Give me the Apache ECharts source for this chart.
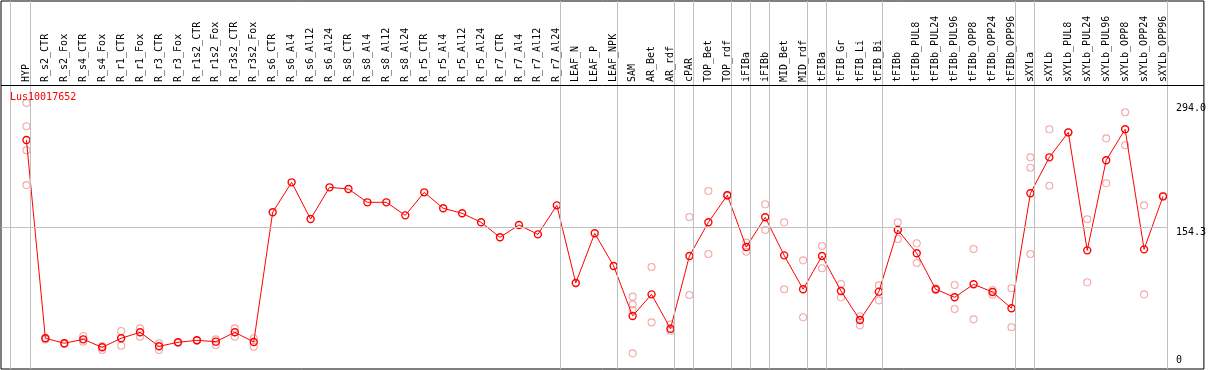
<!DOCTYPE html>
<html>
<head>
<meta charset="utf-8">
<script src="https://cdn.jsdelivr.net/npm/echarts@6/dist/echarts.min.js"></script>
<style>
html,body{margin:0;padding:0;background:#fff;}
#chart{width:1209px;height:370px;}
</style>
</head>
<body>
<div id="chart"></div>
<script>
const geneName = 'Lus10017652';
const categories = ['HYP','R_s2_CTR','R_s2_Fox','R_s4_CTR','R_s4_Fox','R_r1_CTR','R_r1_Fox','R_r3_CTR','R_r3_Fox','R_r1s2_CTR','R_r1s2_Fox','R_r3s2_CTR','R_r3s2_Fox','R_s6_CTR','R_s6_Al4','R_s6_Al12','R_s6_Al24','R_s8_CTR','R_s8_Al4','R_s8_Al12','R_s8_Al24','R_r5_CTR','R_r5_Al4','R_r5_Al12','R_r5_Al24','R_r7_CTR','R_r7_Al4','R_r7_Al12','R_r7_Al24','LEAF_N','LEAF_P','LEAF_NPK','SAM','AR_Bet','AR_rdf','cPAR','TOP_Bet','TOP_rdf','iFIBa','iFIBb','MID_Bet','MID_rdf','tFIBa','tFIB_Gr','tFIB_Li','tFIB_Bi','tFIBb','tFIBb_PUL8','tFIBb_PUL24','tFIBb_PUL96','tFIBb_OPP8','tFIBb_OPP24','tFIBb_OPP96','sXYLa','sXYLb','sXYLb_PUL8','sXYLb_PUL24','sXYLb_PUL96','sXYLb_OPP8','sXYLb_OPP24','sXYLb_OPP96'];
const means = [252.5,30.4,24.8,29.2,20.3,30.4,37.1,21.4,25.9,28.1,26.6,37.1,26.2,171.5,205.1,164,199.5,197.6,182.7,182.7,168.1,193.9,176,170.4,160.3,143.5,157.3,146.8,179.3,92.3,148,111.4,55.3,79.6,41.1,122.6,160.3,190.6,132.6,165.9,123.3,85.3,122.6,83.4,50.9,82.6,151.7,125.6,85.3,76.3,90.9,82.2,64,192.8,233.1,261.1,128.9,229.8,264.5,130,189.4];
const replicates = [[294,268,241,202],[31,29],[25,24],[33,26.6],[21.7,17.3],[38.5,22.1],[41.5,32.2],[24.8,17.3],[26,25.5],[28,28],[29.2,22.8],[41.5,32.2],[30.4,21],
[],[],[],[],[],[],[],[],[],[],[],[],[],[],[],[],[],[],[],
[77,68.4,62,13.5],[110.2,48.2],[46,38.9],[166.3,78.9],[195.4,124.8],[191,190],[137.5,127.4],[180.5,151.7],[160.3,85.3],[117.7,53.9],[133.8,108.8],[91.2,76.3],[55,44.9],[89.7,72.9],[160.3,141.6],[136.8,114.7],[86,84.5],[90.1,63.2],[130.4,51.6],[84.5,79.2],[86.4,42.7],[233.1,221.5,124.8],[264.5,201.3],[261,261],[163.7,93.1],[254.4,204],[283.6,246.6],[179.3,79.6],[190,189]];
const yTickLabels = [154.3, 294.0];
const yZeroLabel = [0];
const groupSeparators = [-0.85,0.2,28.2,31.2,34.2,35.2,37.2,38.2,39.2,41.2,42.2,45.2,52.2,53.2,60.2];

const XMIN = -1.3421, XMAX = 62.158, YMIN = -4.03, YMAX = 408.25;
const FONT = 'DejaVu Sans Mono';
const GRAY = {color: '#c0c0c0', width: 1, type: 'solid'};

const meanData = means.map((v, i) => [i, v]);
const repData = [];
replicates.forEach((arr, i) => arr.forEach(v => repData.push([i, v])));

const chart = echarts.init(document.getElementById('chart'), null, {renderer: 'canvas'});
chart.setOption({
  animation: false,
  title: {
    text: geneName, left: 10, top: 92, padding: 0,
    textStyle: {color: '#ff0000', fontFamily: FONT, fontSize: 10, fontWeight: 'normal'}
  },
  grid: {left: 1, right: 1.5, top: 1, bottom: 1, show: true, borderColor: '#000', borderWidth: 1, backgroundColor: '#fff'},
  xAxis: {
    type: 'value', min: XMIN, max: XMAX, position: 'top', offset: -81,
    axisLine: {show: false}, axisTick: {show: false}, splitLine: {show: false},
    axisLabel: {
      customValues: categories.map((c, i) => i),
      formatter: v => categories[Math.round(v)],
      rotate: 90, margin: 0, color: '#000', fontFamily: FONT, fontSize: 10
    }
  },
  yAxis: [{
    type: 'value', min: YMIN, max: YMAX, position: 'right',
    axisLine: {show: false}, axisTick: {show: false}, splitLine: {show: false},
    axisLabel: {customValues: yTickLabels, formatter: v => v.toFixed(1), inside: true, align: 'left', margin: 28,
      verticalAlign: 'top', color: '#000', fontFamily: FONT, fontSize: 10}
  }, {
    type: 'value', min: YMIN, max: YMAX, position: 'right',
    axisLine: {show: false}, axisTick: {show: false}, splitLine: {show: false},
    axisLabel: {customValues: yZeroLabel, formatter: v => String(v), inside: true, align: 'left', margin: 28,
      verticalAlign: 'bottom', color: '#000', fontFamily: FONT, fontSize: 10}
  }],
  series: [{
    type: 'scatter', data: repData, symbol: 'circle', symbolSize: 7, z: 2,
    itemStyle: {color: 'rgba(255,255,255,0)', borderColor: '#f09494', borderWidth: 1.1},
    markLine: {
      silent: true, symbol: 'none', label: {show: false},
      data: [
        ...groupSeparators.map(x => ({xAxis: x, lineStyle: GRAY})),
        [{coord: [XMIN, 154.3], lineStyle: GRAY}, {coord: [60.24, 154.3]}],
        {yAxis: 314.1, lineStyle: {color: '#000', width: 1, type: 'solid'}}
      ]
    }
  }, {
    type: 'line', data: meanData, symbol: 'circle', symbolSize: 7, z: 3,
    lineStyle: {color: '#ff0000', width: 1},
    itemStyle: {color: 'rgba(255,255,255,0)', borderColor: '#ff0000', borderWidth: 1.4}
  }]
});
</script>
</body>
</html>
